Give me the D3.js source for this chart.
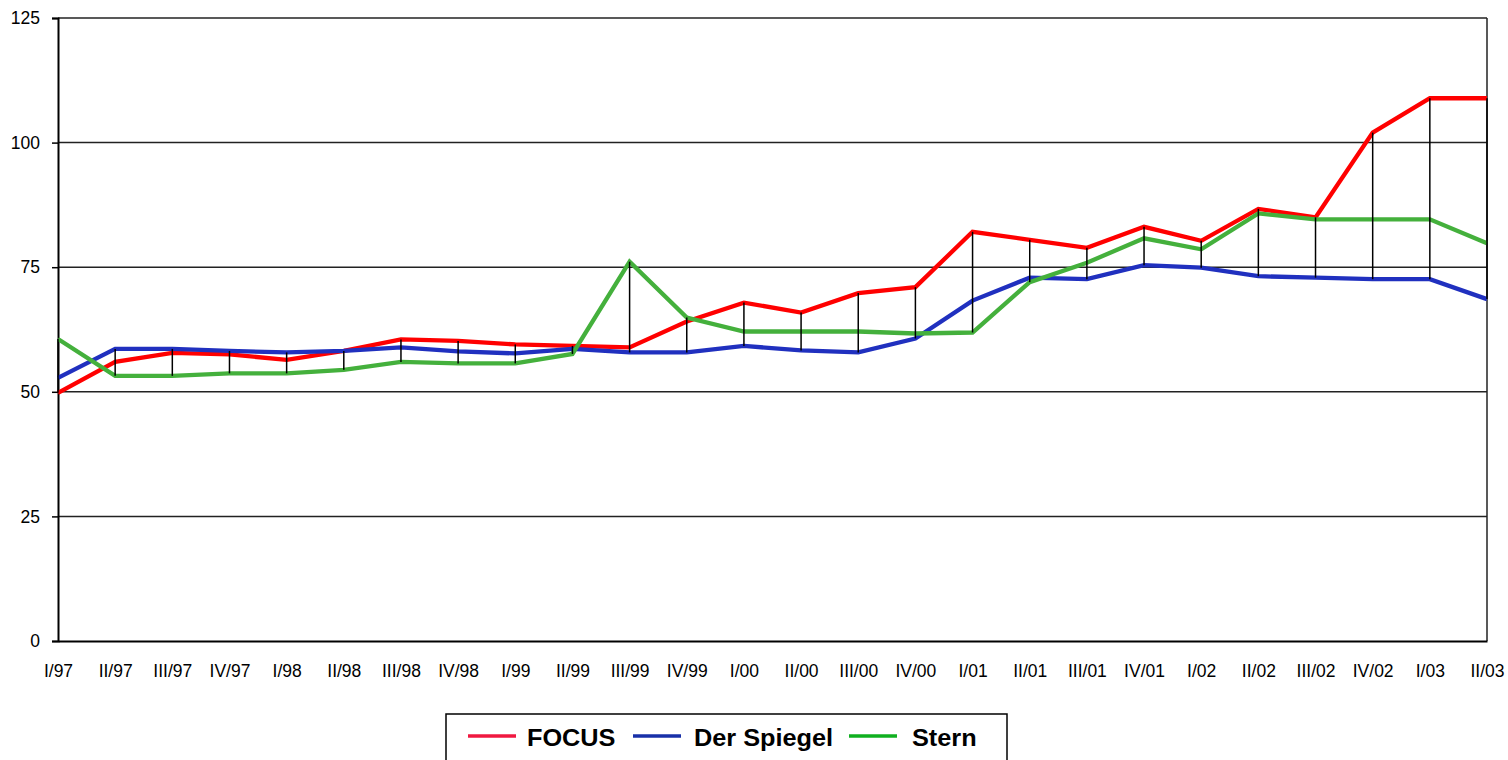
<!DOCTYPE html>
<html><head><meta charset="utf-8">
<script src="https://cdn.jsdelivr.net/npm/d3@7"></script>
<style>body{margin:0;background:#fff}svg{display:block}text{font-family:"Liberation Sans",Arial,sans-serif}</style>
</head><body>
<svg id="c" width="1508" height="760"></svg>
<script>
const categories = ["I/97","II/97","III/97","IV/97","I/98","II/98","III/98","IV/98","I/99","II/99","III/99","IV/99","I/00","II/00","III/00","IV/00","I/01","II/01","III/01","IV/01","I/02","II/02","III/02","IV/02","I/03","II/03"];
const focus   = [49.8,56.0,57.8,57.5,56.4,58.2,60.5,60.2,59.5,59.2,58.9,64.1,67.9,65.9,69.8,71.0,82.1,80.5,78.9,83.1,80.3,86.7,85.0,102.0,108.9,108.9];
const spiegel = [52.8,58.6,58.6,58.2,57.9,58.2,58.9,58.1,57.7,58.6,57.9,57.9,59.2,58.3,57.9,60.7,68.3,72.9,72.6,75.4,74.9,73.2,72.9,72.6,72.6,68.6];
const stern   = [60.6,53.2,53.2,53.7,53.7,54.4,56.0,55.7,55.7,57.6,76.1,64.9,62.1,62.1,62.1,61.7,61.9,72.0,75.9,80.8,78.6,85.8,84.6,84.6,84.6,79.8];
const yTicks = [0,25,50,75,100,125];
const seriesNames = ["FOCUS","Der Spiegel","Stern"];
const seriesColors = ["#ff0000","#2030bf","#44b03c"];
const legendColors = ["#f01840","#1830a8","#10b020"];
const seriesData = [focus, spiegel, stern];

const svg = d3.select("#c");
const x = d3.scalePoint().domain(categories).range([58, 1487]);
const y = d3.scaleLinear().domain([0,125]).range([641, 18]);

// gridlines
svg.append("g").selectAll("line").data(yTicks.filter(d=>d>0)).join("line")
  .attr("x1",58).attr("x2",1487).attr("y1",d=>y(d)).attr("y2",d=>y(d))
  .attr("stroke","#222").attr("stroke-width",1.5);
// right frame
svg.append("line").attr("x1",1487).attr("x2",1487).attr("y1",y(125)).attr("y2",y(0))
  .attr("stroke","#222").attr("stroke-width",1.5);

// y axis
const ya = svg.append("g").attr("transform","translate(58,0)")
  .call(d3.axisLeft(y).tickValues(yTicks).tickSize(6).tickPadding(12));
ya.select(".domain").attr("stroke","#000").attr("stroke-width",2);
ya.selectAll(".tick line").attr("stroke","#000").attr("stroke-width",1.5);
ya.selectAll("text").attr("font-size",17.5).attr("fill","#000").style("font-family","Liberation Sans, Arial, sans-serif");

// x axis
const xa = svg.append("g").attr("transform","translate(0,641)")
  .call(d3.axisBottom(x).tickSize(0).tickPadding(24));
xa.select(".domain").attr("stroke","#000").attr("stroke-width",2);
xa.selectAll("text").attr("font-size",17.5).attr("fill","#000").style("font-family","Liberation Sans, Arial, sans-serif");

// series lines
const line = d3.line().x((d,i)=>x(categories[i])).y(d=>y(d));
seriesData.forEach((s,k)=>{
  svg.append("path").datum(s).attr("d",line).attr("fill","none")
    .attr("stroke",seriesColors[k]).attr("stroke-width",4.3).attr("stroke-linejoin","miter");
});

// high-low lines
svg.append("g").selectAll("line").data(categories).join("line")
  .attr("x1",d=>x(d)).attr("x2",d=>x(d))
  .attr("y1",(d,i)=>y(Math.max(focus[i],spiegel[i],stern[i])))
  .attr("y2",(d,i)=>y(Math.min(focus[i],spiegel[i],stern[i])))
  .attr("stroke","#000").attr("stroke-width",1.5);

// legend
const lg = svg.append("g");
lg.append("rect").attr("x",446).attr("y",714).attr("width",561).attr("height",60)
  .attr("fill","#fff").attr("stroke","#000").attr("stroke-width",1.5);
const lx = [468, 633, 849];
const tx = [527, 694, 912];
seriesNames.forEach((n,k)=>{
  lg.append("line").attr("x1",lx[k]).attr("x2",lx[k]+48).attr("y1",736).attr("y2",736)
    .attr("stroke",legendColors[k]).attr("stroke-width",3.5);
  lg.append("text").attr("transform",`translate(${tx[k]},746) scale(1.1,1)`)
    .attr("font-size",23).attr("font-weight","bold")
    .attr("fill","#000").text(n);
});
</script>
</body></html>
